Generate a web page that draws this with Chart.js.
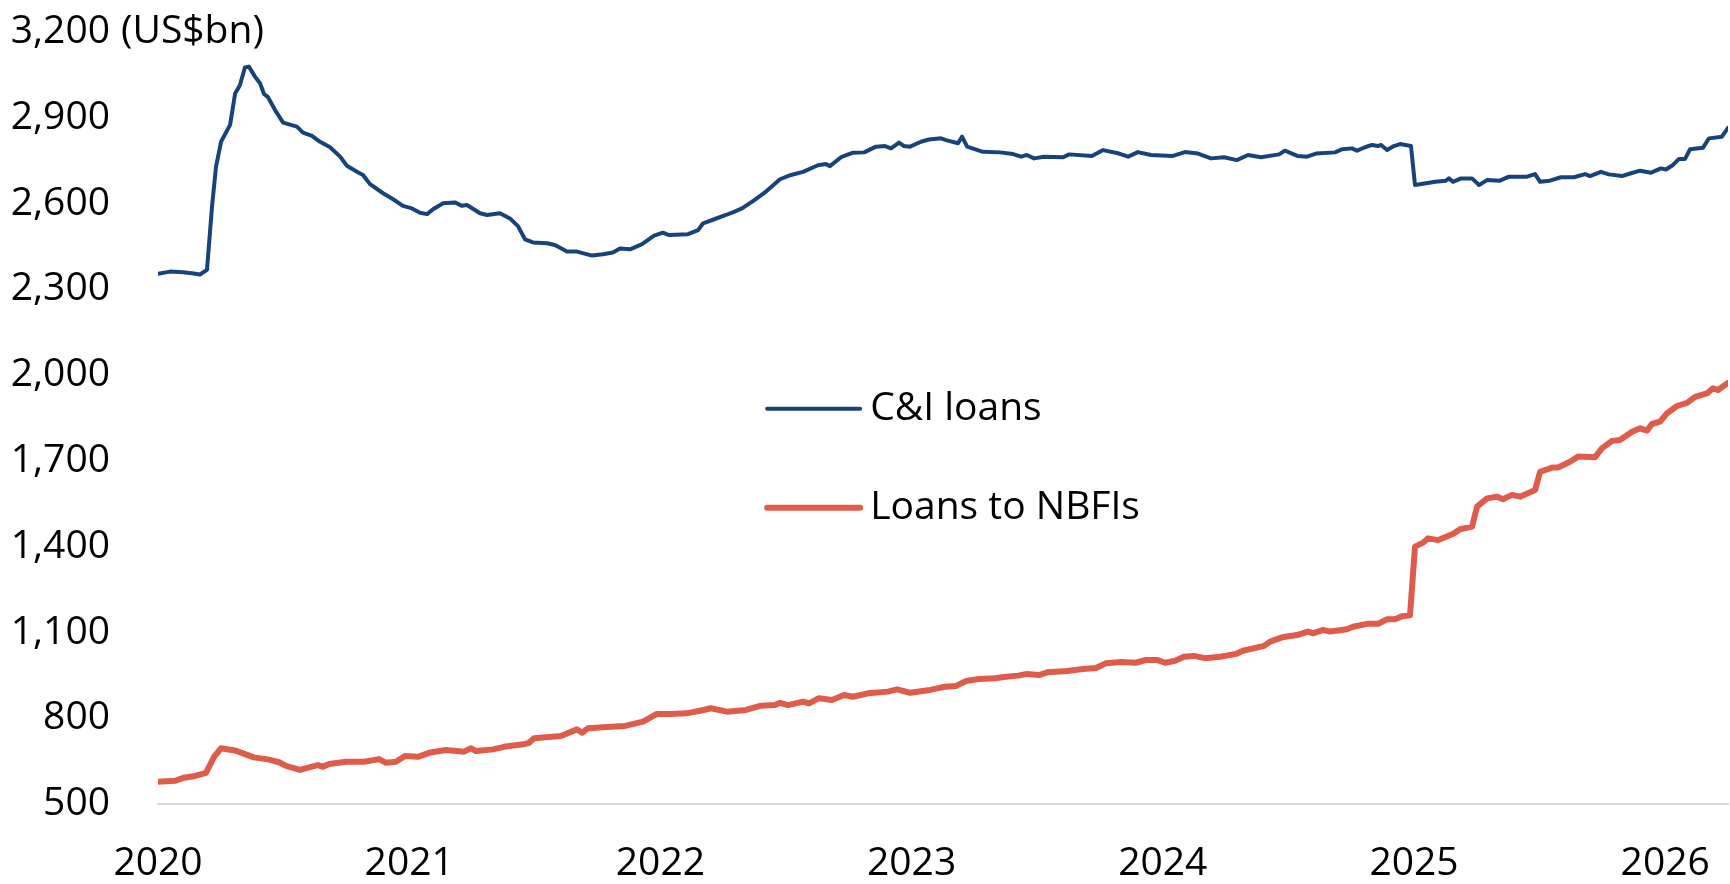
<!DOCTYPE html>
<html>
<head>
<meta charset="utf-8">
<title>C&amp;I loans vs loans to NBFIs</title>
<script src="https://cdn.jsdelivr.net/npm/chart.js@4.4.1/dist/chart.umd.min.js"></script>
<style>
    html, body { margin: 0; padding: 0; background: #fff; }
    #wrap { width: 1730px; height: 884px; }
</style>
</head>
<body>
<div id="wrap"><canvas id="loansChart" width="1730" height="884"></canvas></div>
<script>
// Weekly bank loan balances, US$bn (dates as decimal years)
const ciDates = [
    2020.000, 2020.048, 2020.100, 2020.135, 2020.167, 2020.195, 2020.215, 2020.231, 2020.251, 2020.287,
    2020.307, 2020.326, 2020.346, 2020.362, 2020.386, 2020.406, 2020.422, 2020.438, 2020.466, 2020.498,
    2020.553, 2020.577, 2020.613, 2020.645, 2020.685, 2020.725, 2020.752, 2020.792, 2020.816, 2020.844,
    2020.896, 2020.936, 2020.975, 2021.011, 2021.043, 2021.071, 2021.095, 2021.135, 2021.182, 2021.210,
    2021.230, 2021.282, 2021.310, 2021.361, 2021.401, 2021.433, 2021.461, 2021.493, 2021.549, 2021.580,
    2021.628, 2021.668, 2021.728, 2021.771, 2021.811, 2021.839, 2021.879, 2021.927, 2021.975, 2022.010,
    2022.034, 2022.110, 2022.150, 2022.170, 2022.217, 2022.261, 2022.293, 2022.325, 2022.377, 2022.416,
    2022.476, 2022.520, 2022.568, 2022.627, 2022.659, 2022.675, 2022.719, 2022.767, 2022.811, 2022.858,
    2022.894, 2022.918, 2022.950, 2022.970, 2022.994, 2023.037, 2023.069, 2023.117, 2023.137, 2023.185,
    2023.201, 2023.221, 2023.284, 2023.352, 2023.404, 2023.436, 2023.459, 2023.487, 2023.527, 2023.603,
    2023.627, 2023.718, 2023.762, 2023.826, 2023.862, 2023.901, 2023.953, 2024.037, 2024.088, 2024.140,
    2024.192, 2024.244, 2024.295, 2024.339, 2024.391, 2024.463, 2024.486, 2024.538, 2024.574, 2024.610,
    2024.686, 2024.713, 2024.753, 2024.773, 2024.805, 2024.833, 2024.857, 2024.869, 2024.893, 2024.920,
    2024.944, 2024.988, 2025.004, 2025.048, 2025.084, 2025.127, 2025.139, 2025.155, 2025.187, 2025.231,
    2025.259, 2025.291, 2025.342, 2025.378, 2025.422, 2025.450, 2025.482, 2025.502, 2025.541, 2025.585,
    2025.637, 2025.681, 2025.701, 2025.744, 2025.776, 2025.828, 2025.864, 2025.900, 2025.944, 2025.983,
    2026.003, 2026.031, 2026.055, 2026.079, 2026.099, 2026.150, 2026.174, 2026.226, 2026.250
];
const ciLoans = [
    2354, 2362, 2360, 2356, 2352, 2368, 2589, 2729, 2816, 2875,
    2985, 3014, 3076, 3079, 3044, 3021, 2983, 2972, 2927, 2883,
    2869, 2848, 2837, 2816, 2797, 2764, 2732, 2711, 2700, 2668,
    2636, 2615, 2592, 2583, 2568, 2563, 2580, 2601, 2604, 2592,
    2595, 2566, 2560, 2566, 2548, 2521, 2475, 2464, 2461, 2455,
    2432, 2432, 2418, 2423, 2429, 2443, 2440, 2458, 2488, 2498,
    2490, 2493, 2507, 2531, 2546, 2560, 2571, 2583, 2614, 2639,
    2685, 2700, 2711, 2734, 2738, 2731, 2762, 2778, 2779, 2799,
    2801, 2793, 2813, 2801, 2799, 2816, 2824, 2828, 2822, 2811,
    2834, 2799, 2781, 2779, 2773, 2764, 2770, 2758, 2764, 2762,
    2772, 2766, 2787, 2775, 2764, 2780, 2770, 2766, 2780, 2775,
    2758, 2762, 2752, 2770, 2762, 2772, 2785, 2766, 2764, 2775,
    2779, 2790, 2793, 2785, 2797, 2805, 2801, 2805, 2787, 2801,
    2808, 2801, 2665, 2671, 2676, 2680, 2688, 2676, 2688, 2688,
    2665, 2682, 2680, 2694, 2694, 2694, 2703, 2676, 2680, 2692,
    2692, 2703, 2696, 2711, 2702, 2696, 2706, 2715, 2708, 2723,
    2719, 2735, 2756, 2756, 2790, 2795, 2828, 2834, 2865
];

const nbfiDates = [
    2020.000, 2020.068, 2020.104, 2020.147, 2020.191, 2020.223, 2020.251, 2020.311, 2020.338, 2020.382,
    2020.438, 2020.482, 2020.510, 2020.565, 2020.609, 2020.637, 2020.657, 2020.681, 2020.748, 2020.820,
    2020.880, 2020.908, 2020.947, 2020.983, 2021.035, 2021.079, 2021.146, 2021.218, 2021.246, 2021.266,
    2021.334, 2021.377, 2021.461, 2021.477, 2021.497, 2021.604, 2021.668, 2021.688, 2021.712, 2021.803,
    2021.859, 2021.931, 2021.986, 2022.042, 2022.102, 2022.158, 2022.201, 2022.265, 2022.341, 2022.400,
    2022.456, 2022.476, 2022.508, 2022.568, 2022.592, 2022.631, 2022.683, 2022.731, 2022.767, 2022.826,
    2022.906, 2022.942, 2022.994, 2023.073, 2023.133, 2023.177, 2023.217, 2023.268, 2023.332, 2023.376,
    2023.424, 2023.459, 2023.507, 2023.543, 2023.619, 2023.682, 2023.734, 2023.774, 2023.834, 2023.893,
    2023.933, 2023.977, 2024.009, 2024.049, 2024.084, 2024.124, 2024.168, 2024.228, 2024.291, 2024.319,
    2024.403, 2024.427, 2024.475, 2024.534, 2024.578, 2024.598, 2024.638, 2024.666, 2024.733, 2024.757,
    2024.813, 2024.857, 2024.893, 2024.924, 2024.952, 2024.984, 2025.004, 2025.036, 2025.056, 2025.096,
    2025.155, 2025.183, 2025.231, 2025.251, 2025.291, 2025.330, 2025.354, 2025.390, 2025.422, 2025.482,
    2025.502, 2025.553, 2025.573, 2025.621, 2025.653, 2025.721, 2025.748, 2025.788, 2025.820, 2025.868,
    2025.900, 2025.928, 2025.947, 2025.979, 2026.007, 2026.047, 2026.087, 2026.119, 2026.166, 2026.190,
    2026.210, 2026.250
];
const nbfiLoans = [
    578, 581, 592, 598, 609, 665, 695, 686, 677, 663,
    656, 646, 633, 619, 630, 636, 630, 640, 648, 648,
    657, 644, 648, 668, 665, 679, 689, 683, 695, 685,
    691, 700, 710, 714, 730, 738, 761, 749, 765, 770,
    773, 788, 815, 815, 817, 826, 835, 823, 829, 844,
    846, 854, 846, 858, 852, 870, 864, 881, 875, 887,
    893, 901, 889, 899, 910, 913, 930, 937, 940, 945,
    949, 955, 951, 961, 965, 972, 976, 992, 997, 994,
    1004, 1004, 994, 1001, 1015, 1018, 1010, 1015, 1025, 1036,
    1053, 1068, 1083, 1091, 1103, 1097, 1109, 1103, 1111, 1120,
    1130, 1130, 1146, 1146, 1157, 1160, 1400, 1414, 1429, 1423,
    1444, 1461, 1470, 1540, 1569, 1575, 1566, 1581, 1575, 1598,
    1662, 1677, 1677, 1697, 1715, 1713, 1744, 1770, 1773, 1802,
    1814, 1806, 1829, 1837, 1866, 1892, 1903, 1924, 1936, 1954,
    1948, 1973
];

const yMin = 500;
const yMax = 3200;
const yStep = 300;
const xMin = 2020;
const xMax = 2026.25;
const unitText = '(US$bn)';

const FONT = "'Open Sans', sans-serif";
const FONT_SIZE = 39;

Chart.defaults.font.family = FONT;
Chart.defaults.color = '#000';

// "(US$bn)" sits right after the top y tick label
const unitLabel = {
    id: 'unitLabel',
    afterDraw(chart) {
        const ctx = chart.ctx;
        const y = chart.scales.y.getPixelForValue(yMax);
        ctx.save();
        ctx.font = FONT_SIZE + 'px ' + FONT;
        ctx.fillStyle = '#000';
        ctx.textAlign = 'left';
        ctx.textBaseline = 'middle';
        ctx.fillText(unitText, chart.chartArea.left - 48 + 11, y);
        ctx.restore();
    }
};

// legend drawn inside the plot, one row per dataset
const inlineLegend = {
    id: 'inlineLegend',
    afterDraw(chart) {
        const ctx = chart.ctx;
        const a = chart.chartArea;
        const x0 = a.left + (a.right - a.left) * 0.388;
        let y0 = a.top + (a.bottom - a.top) * 0.488;
        ctx.save();
        ctx.font = FONT_SIZE + 'px ' + FONT;
        ctx.textAlign = 'left';
        ctx.textBaseline = 'middle';
        chart.data.datasets.forEach(ds => {
            ctx.beginPath();
            ctx.strokeStyle = ds.borderColor;
            ctx.lineWidth = ds.borderWidth;
            ctx.lineCap = 'round';
            ctx.moveTo(x0, y0);
            ctx.lineTo(x0 + 93, y0);
            ctx.stroke();
            ctx.fillStyle = '#000';
            ctx.fillText(ds.label, x0 + 103, y0);
            y0 += 99;
        });
        ctx.restore();
    }
};

function toPoints(dates, values) {
    return dates.map((d, i) => ({ x: d, y: values[i] }));
}

new Chart(document.getElementById('loansChart'), {
    type: 'line',
    data: {
        datasets: [{
            label: 'C&I loans',
            data: toPoints(ciDates, ciLoans),
            borderColor: '#17437a',
            borderWidth: 4,
            pointRadius: 0,
            tension: 0,
            borderJoinStyle: 'round',
            borderCapStyle: 'round'
        }, {
            label: 'Loans to NBFIs',
            data: toPoints(nbfiDates, nbfiLoans),
            borderColor: '#e05c4a',
            borderWidth: 6,
            pointRadius: 0,
            tension: 0,
            borderJoinStyle: 'round',
            borderCapStyle: 'round'
        }]
    },
    options: {
        responsive: false,
        animation: false,
        layout: { padding: { top: 32, right: 2, left: 0, bottom: 0 } },
        plugins: {
            legend: { display: false },
            tooltip: { enabled: false }
        },
        scales: {
            x: {
                type: 'linear',
                min: xMin,
                max: xMax,
                grid: { display: false, drawTicks: false },
                border: { display: true, color: '#d9d9d9', width: 2 },
                ticks: {
                    stepSize: 1,
                    includeBounds: false,
                    maxRotation: 0,
                    padding: 36,
                    font: { size: FONT_SIZE },
                    callback: v => String(v)
                },
                afterFit: scale => {
                    scale.height = 80;
                    scale.paddingLeft = 0;
                    scale.paddingRight = 0;
                }
            },
            y: {
                min: yMin,
                max: yMax,
                grid: { display: false, drawTicks: false },
                border: { display: false },
                ticks: {
                    stepSize: yStep,
                    padding: 48,
                    font: { size: FONT_SIZE },
                    callback: v => v.toLocaleString('en-US')
                },
                afterFit: scale => {
                    scale.width = 158;
                    scale.paddingTop = 0;
                    scale.paddingBottom = 0;
                }
            }
        }
    },
    plugins: [unitLabel, inlineLegend]
});
</script>
</body>
</html>
